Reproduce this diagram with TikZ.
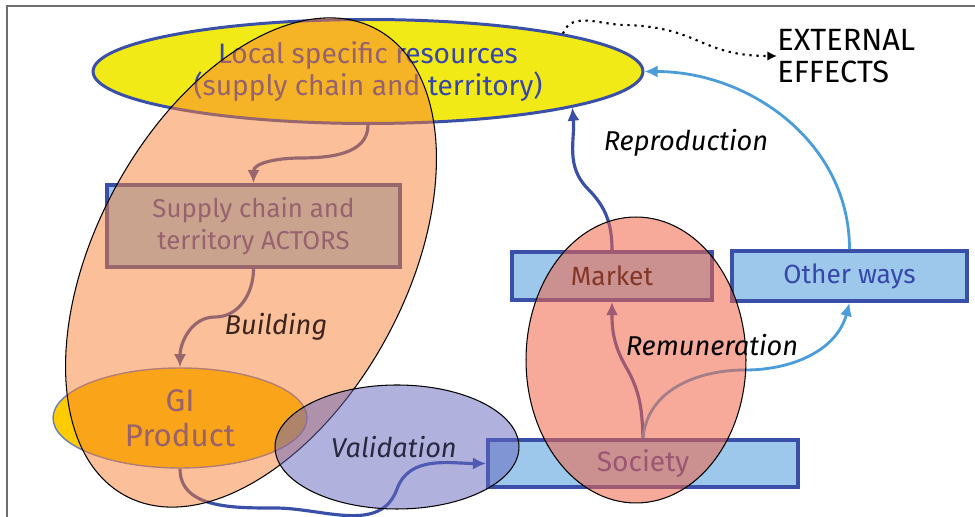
\documentclass[tikz,border=0pt]{standalone}
\usepackage{fontspec}
\setmainfont{Fira Sans}
\usetikzlibrary{arrows.meta,positioning,shapes.geometric}
\definecolor{resYellow}{RGB}{242,234,23}
\definecolor{giGold}{RGB}{255,204,0}
\definecolor{giEdge}{RGB}{110,125,181}
\definecolor{boxBlue}{RGB}{58,80,168}
\definecolor{boxFill}{RGB}{157,200,235}
\definecolor{textBlue}{RGB}{55,70,170}
\definecolor{skyArrow}{RGB}{74,157,217}
\definecolor{zoneSalmon}{RGB}{247,127,51}
\definecolor{marketSalmon}{RGB}{240,100,70}
\definecolor{validLilac}{RGB}{100,100,190}
\definecolor{labelBrown}{RGB}{60,35,30}
\definecolor{validNavy}{RGB}{40,40,65}
\definecolor{frameGray}{RGB}{110,110,110}

\begin{document}
\begin{tikzpicture}[
    x=0.02cm, y=0.02cm,
    font=\fontsize{16}{18.7}\selectfont,
    blob/.style={ellipse, inner sep=0pt, align=center},
    zone/.style={
        ellipse, inner sep=0pt, draw=black, line width=0.6pt,
        fill=zoneSalmon, fill opacity=0.5
    },
    actbox/.style={
        rectangle, draw=boxBlue, line width=2.2pt, fill=boxFill,
        inner sep=0pt, text=textBlue, align=center,
        font=\fontsize{15}{18}\selectfont
    },
    lbl/.style={font=\fontsize{15.5}{18}\selectfont\itshape},
    flow/.style={-{Latex[length=7.5pt,width=7pt]}, line width=1.8pt, draw=boxBlue},
    skyflow/.style={flow, draw=skyArrow, line width=1.6pt}
]
    \useasboundingbox (0,0) rectangle (975,517);

    % slide frame
    \draw [frameGray, line width=1.2pt] (7,0) -- (7,511) -- (975,511);

    % Resources ellipse (top)
    \node [blob, draw=boxBlue, line width=1.7pt, fill=resYellow, text=textBlue,
           minimum width=11cm, minimum height=2.08cm] (res) at (368,445.5)
        {Local specific resources\\(supply chain and territory)};

    % GI product ellipse
    \node [blob, draw=giEdge, line width=0.8pt, fill=giGold, text=textBlue,
           font=\fontsize{17.8}{20}\selectfont,
           minimum width=5.08cm, minimum height=2cm] (gi) at (180,99)
        {GI\\Product};

    % Boxes
    \node [actbox, font=\fontsize{14.7}{18}\selectfont,
           minimum width=5.86cm, minimum height=1.64cm] (actors) at (253.5,291)
        {Supply chain and\\territory ACTORS};
    \node [actbox, text=black, minimum width=4cm, minimum height=0.96cm] (market) at (612,241) {Market};
    \node [actbox, minimum width=4.7cm, minimum height=1cm] (others) at (849.5,241) {Other ways};
    \node [actbox, font=\fontsize{16}{18}\selectfont,
           minimum width=6.2cm, minimum height=0.94cm] (society) at (643,53.5) {Society};

    % Flows inside the GI zone
    \draw [flow] (res.south) to[out=-90,in=0] (300,359) to[out=180,in=90] (actors.north);
    \draw [flow] (actors.south) to[out=-90,in=0] (215,200) to[out=180,in=90] (gi.north);
    \draw [flow] (gi.south) to[out=-90,in=180] (275,9) to[out=0,in=-110] (397,28)
        to[out=70,in=180] (society.west);

    % Remuneration and reproduction
    \draw [flow] (society.north) to[out=92,in=-60] (626,150) to[out=120,in=-90] (market.south);
    \draw [skyflow] (society.north) to[out=85,in=180] (745,147) to[out=0,in=-105] (others.south);
    \draw [flow] (market.north) to[out=90,in=-45] (588,328) to[out=135,in=-85] (res.-10);
    \draw [skyflow] (others.north) to[out=90,in=0] (res.east);

    % Transparent zones on top
    \node [zone, rotate=61.7, minimum width=10.6cm, minimum height=6.2cm] (gizone) at (251,254.5) {};
    \node [zone, fill=marketSalmon, fill opacity=0.55,
           minimum width=4.4cm, minimum height=5.72cm] (mkzone) at (636,157) {};
    \node [zone, fill=validLilac, minimum width=4.88cm, minimum height=2.48cm] (valzone) at (397,70) {};

    % Labels
    \node [lbl, text=labelBrown] (building) at (276,190) {Building};
    \node [lbl, text=validNavy] (validation) at (394,70) {Validation};
    \node [lbl] (reproduction) at (686,374) {Reproduction};
    \node [lbl] (remuneration) at (712,172) {Remuneration};

    % External effects
    \node [anchor=west, align=left, inner sep=0pt, font=\fontsize{17.5}{18.5}\selectfont] (ext) at (777,461)
        {EXTERNAL\\EFFECTS};
    \draw [-{Latex[length=5.5pt,width=5.5pt]}, line width=1.2pt, dash pattern=on 1.3pt off 2.7pt]
        (res.11) to[out=70,in=180] (625,492) .. controls (700,490) and (700,461) .. (ext.west);

\end{tikzpicture}
\end{document}
